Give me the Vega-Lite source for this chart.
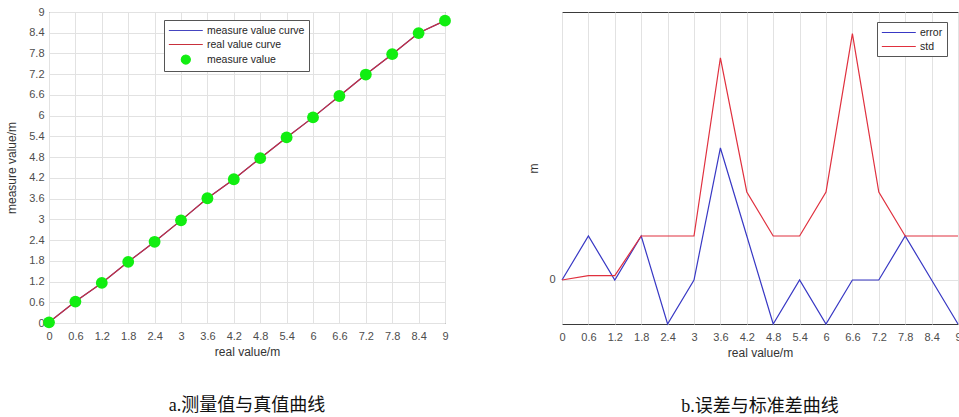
{
  "$schema": "https://vega.github.io/schema/vega-lite/v6.json",
  "background": "white",
  "padding": 5,
  "bounds": "flush",
  "spacing": 117,
  "resolve": {"scale": {"color": "independent"}, "legend": {"color": "independent"}},
  "config": {
    "view": {"stroke": "#3a3a3a", "strokeWidth": 1},
    "font": "Liberation Sans",
    "axis": {
      "labelFont": "Liberation Sans", "labelFontSize": 11, "labelColor": "#4d4d4d",
      "titleFont": "Liberation Sans", "titleFontSize": 12, "titleFontWeight": "normal", "titleColor": "#333333",
      "gridColor": "#e2e2e2", "gridOpacity": 1, "domain": false, "ticks": false, "labelOverlap": false, "labelFlush": false
    },
    "title": {"font": "Liberation Serif, Noto Sans CJK SC", "fontSize": 18, "fontWeight": "normal", "color": "#111111", "orient": "bottom", "offset": 40, "anchor": "middle"},
    "legend": {
      "title": null, "orient": "none", "symbolType": "M-1,0H5", "symbolSize": 128, "symbolStrokeWidth": 1.2,
      "labelOffset": 26, "labelFontSize": 10.5, "labelColor": "#262626", "labelFont": "Liberation Sans",
      "strokeColor": "#555555", "fillColor": "white", "padding": 4, "rowPadding": 2
    }
  },
  "datasets": {
    "left": [
      {"x": 0, "y": 0.02, "series": "measure value curve"},
      {"x": 0.6, "y": 0.62, "series": "measure value curve"},
      {"x": 1.2, "y": 1.16, "series": "measure value curve"},
      {"x": 1.8, "y": 1.77, "series": "measure value curve"},
      {"x": 2.4, "y": 2.35, "series": "measure value curve"},
      {"x": 3, "y": 2.97, "series": "measure value curve"},
      {"x": 3.6, "y": 3.61, "series": "measure value curve"},
      {"x": 4.2, "y": 4.16, "series": "measure value curve"},
      {"x": 4.8, "y": 4.77, "series": "measure value curve"},
      {"x": 5.4, "y": 5.37, "series": "measure value curve"},
      {"x": 6, "y": 5.95, "series": "measure value curve"},
      {"x": 6.6, "y": 6.57, "series": "measure value curve"},
      {"x": 7.2, "y": 7.19, "series": "measure value curve"},
      {"x": 7.8, "y": 7.78, "series": "measure value curve"},
      {"x": 8.4, "y": 8.39, "series": "measure value curve"},
      {"x": 9, "y": 8.75, "series": "measure value curve"},
      {"x": 0, "y": 0.02, "series": "real value curve"},
      {"x": 0.6, "y": 0.62, "series": "real value curve"},
      {"x": 1.2, "y": 1.16, "series": "real value curve"},
      {"x": 1.8, "y": 1.77, "series": "real value curve"},
      {"x": 2.4, "y": 2.35, "series": "real value curve"},
      {"x": 3, "y": 2.97, "series": "real value curve"},
      {"x": 3.6, "y": 3.61, "series": "real value curve"},
      {"x": 4.2, "y": 4.16, "series": "real value curve"},
      {"x": 4.8, "y": 4.77, "series": "real value curve"},
      {"x": 5.4, "y": 5.37, "series": "real value curve"},
      {"x": 6, "y": 5.95, "series": "real value curve"},
      {"x": 6.6, "y": 6.57, "series": "real value curve"},
      {"x": 7.2, "y": 7.19, "series": "real value curve"},
      {"x": 7.8, "y": 7.78, "series": "real value curve"},
      {"x": 8.4, "y": 8.39, "series": "real value curve"},
      {"x": 9, "y": 8.75, "series": "real value curve"},
      {"x": 0, "y": 0.02, "series": "measure value"},
      {"x": 0.6, "y": 0.62, "series": "measure value"},
      {"x": 1.2, "y": 1.16, "series": "measure value"},
      {"x": 1.8, "y": 1.77, "series": "measure value"},
      {"x": 2.4, "y": 2.35, "series": "measure value"},
      {"x": 3, "y": 2.97, "series": "measure value"},
      {"x": 3.6, "y": 3.61, "series": "measure value"},
      {"x": 4.2, "y": 4.16, "series": "measure value"},
      {"x": 4.8, "y": 4.77, "series": "measure value"},
      {"x": 5.4, "y": 5.37, "series": "measure value"},
      {"x": 6, "y": 5.95, "series": "measure value"},
      {"x": 6.6, "y": 6.57, "series": "measure value"},
      {"x": 7.2, "y": 7.19, "series": "measure value"},
      {"x": 7.8, "y": 7.78, "series": "measure value"},
      {"x": 8.4, "y": 8.39, "series": "measure value"},
      {"x": 9, "y": 8.75, "series": "measure value"}
    ],
    "err": [
      {"x": 0, "v": 0, "series": "error"}, {"x": 0.6, "v": 1, "series": "error"}, {"x": 1.2, "v": 0, "series": "error"},
      {"x": 1.8, "v": 1, "series": "error"}, {"x": 2.4, "v": -1, "series": "error"}, {"x": 3, "v": 0, "series": "error"},
      {"x": 3.6, "v": 3, "series": "error"}, {"x": 4.2, "v": 1, "series": "error"}, {"x": 4.8, "v": -1, "series": "error"},
      {"x": 5.4, "v": 0, "series": "error"}, {"x": 6, "v": -1, "series": "error"}, {"x": 6.6, "v": 0, "series": "error"},
      {"x": 7.2, "v": 0, "series": "error"}, {"x": 7.8, "v": 1, "series": "error"}, {"x": 8.4, "v": 0, "series": "error"},
      {"x": 9, "v": -1, "series": "error"},
      {"x": 0, "v": 0, "series": "std"}, {"x": 0.6, "v": 0.1, "series": "std"}, {"x": 1.2, "v": 0.1, "series": "std"},
      {"x": 1.8, "v": 1, "series": "std"}, {"x": 2.4, "v": 1, "series": "std"}, {"x": 3, "v": 1, "series": "std"},
      {"x": 3.6, "v": 5.05, "series": "std"}, {"x": 4.2, "v": 2, "series": "std"}, {"x": 4.8, "v": 1, "series": "std"},
      {"x": 5.4, "v": 1, "series": "std"}, {"x": 6, "v": 2, "series": "std"}, {"x": 6.6, "v": 5.6, "series": "std"},
      {"x": 7.2, "v": 2, "series": "std"}, {"x": 7.8, "v": 1, "series": "std"}, {"x": 8.4, "v": 1, "series": "std"},
      {"x": 9, "v": 1, "series": "std"}
    ]
  },
  "hconcat": [
    {
      "width": 396,
      "height": 311,
      "title": {"text": "a.测量值与真值曲线"},
      "data": {"name": "left"},
      "encoding": {
        "x": {"field": "x", "type": "quantitative", "scale": {"domain": [0, 9], "nice": false},
              "axis": {"values": [0, 0.6, 1.2, 1.8, 2.4, 3, 3.6, 4.2, 4.8, 5.4, 6, 6.6, 7.2, 7.8, 8.4, 9], "format": "~g", "title": "real value/m", "labelPadding": 7, "titlePadding": 5}},
        "y": {"field": "y", "type": "quantitative", "scale": {"domain": [0, 9], "nice": false},
              "axis": {"values": [0, 0.6, 1.2, 1.8, 2.4, 3, 3.6, 4.2, 4.8, 5.4, 6, 6.6, 7.2, 7.8, 8.4, 9], "format": "~g", "title": "measure value/m", "labelPadding": 5, "titlePadding": 10}},
        "color": {"field": "series", "type": "nominal",
                  "scale": {"domain": ["measure value curve", "real value curve", "measure value"], "range": ["#4545c0", "#c8303c", "#11ee11"]},
                  "legend": {"legendX": 115, "legendY": 8,
                             "encode": {"symbols": {"update": {
                               "shape": {"signal": "datum.value === 'measure value' ? 'M1.2,0A0.8,0.8,0,1,1,2.8,0A0.8,0.8,0,1,1,1.2,0Z' : 'M-1,0H5'"},
                               "fill": {"signal": "datum.value === 'measure value' ? '#11ee11' : 'transparent'"},
                               "stroke": {"signal": "datum.value === 'measure value' ? '#11ee11' : datum.value === 'real value curve' ? '#c8303c' : '#6060b0'"}}}}}}
      },
      "layer": [
        {
          "transform": [{"filter": "datum.series !== 'measure value'"}],
          "mark": {"type": "line", "strokeWidth": 1.2}
        },
        {
          "transform": [{"filter": "datum.series === 'measure value'"}],
          "mark": {"type": "point", "filled": true, "size": 140, "opacity": 1}
        }
      ]
    },
    {
      "width": 396,
      "height": 312,
      "title": {"text": "b.误差与标准差曲线"},
      "data": {"name": "err"},
      "mark": {"type": "line", "strokeWidth": 1.2},
      "encoding": {
        "x": {"field": "x", "type": "quantitative", "scale": {"domain": [0, 9], "nice": false},
              "axis": {"values": [0, 0.6, 1.2, 1.8, 2.4, 3, 3.6, 4.2, 4.8, 5.4, 6, 6.6, 7.2, 7.8, 8.4, 9], "format": "~g", "title": "real value/m", "labelPadding": 7, "titlePadding": 5}},
        "y": {"field": "v", "type": "quantitative", "scale": {"domain": [-1, 6.09], "nice": false, "zero": false},
              "axis": {"values": [0], "format": "~g", "title": "m", "labelPadding": 7, "titlePadding": 8}},
        "color": {"field": "series", "type": "nominal",
                  "scale": {"domain": ["error", "std"], "range": ["#3838c4", "#e0303e"]},
                  "legend": {"legendX": 315, "legendY": 10,
                             "encode": {"symbols": {"update": {
                               "stroke": {"signal": "datum.value === 'std' ? '#e0303e' : '#5050b8'"},
                               "fill": {"value": "transparent"}}}}}}
      }
    }
  ]
}
